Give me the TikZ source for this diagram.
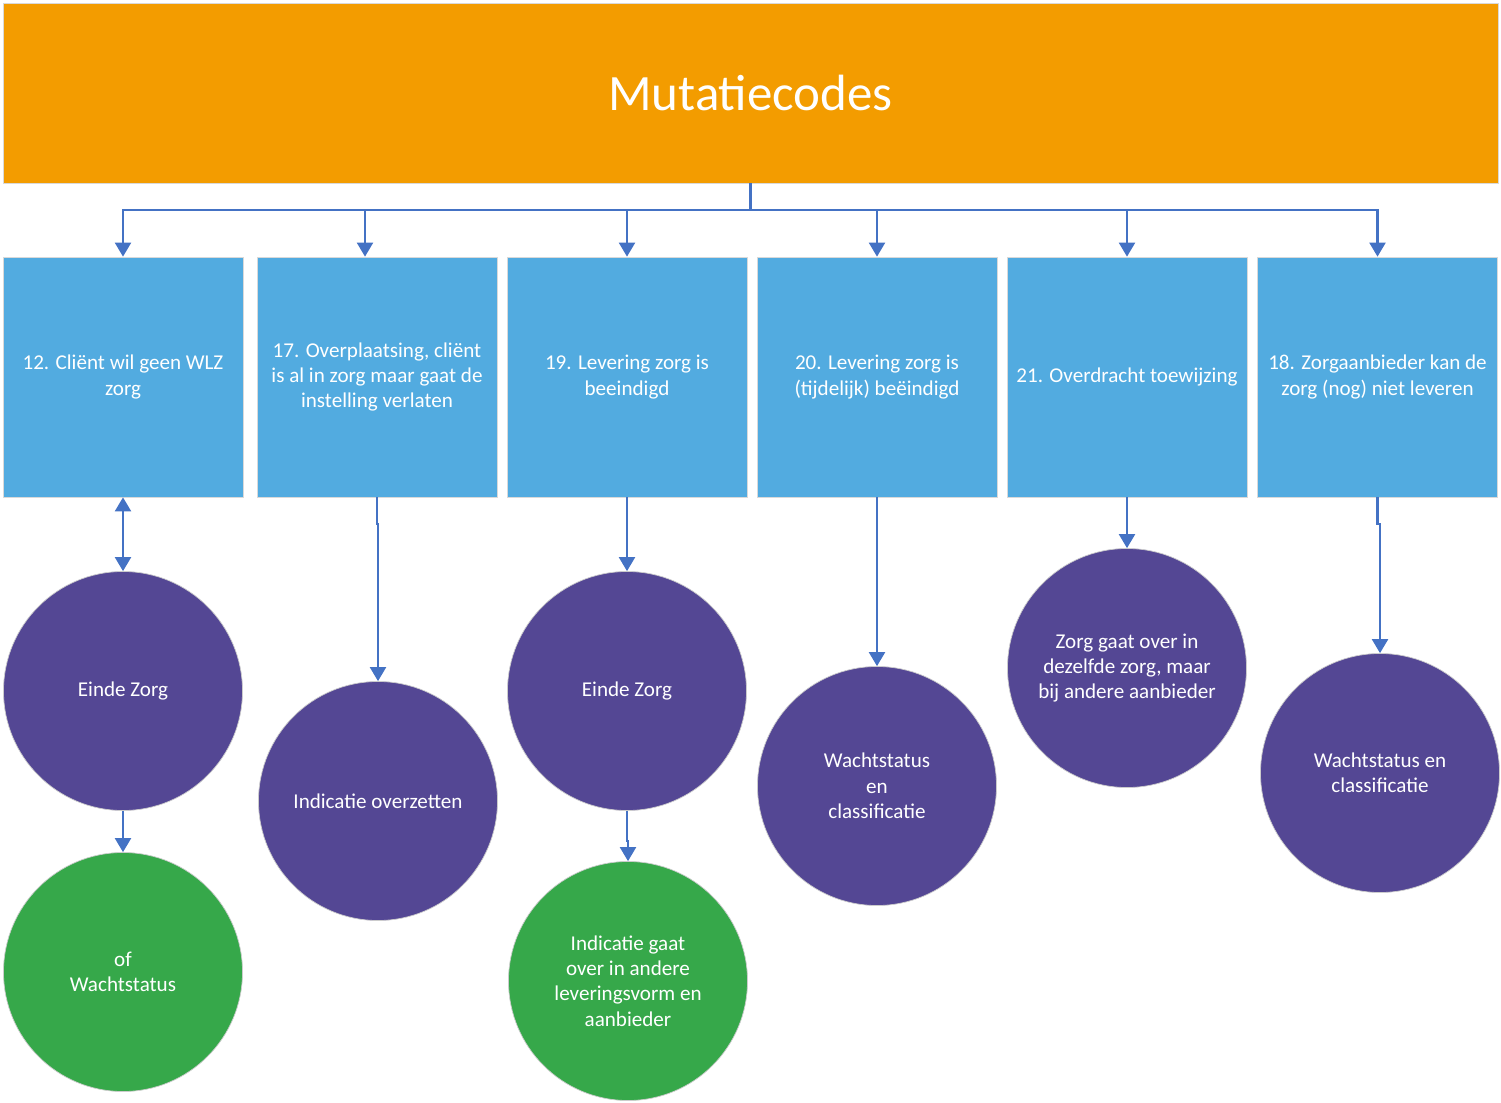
\documentclass[tikz,border=0pt]{standalone}
\usepackage{fontspec}
\setmainfont{Carlito}
\usetikzlibrary{arrows.meta}
\definecolor{koporanje}{HTML}{F39C00}
\definecolor{codeblauw}{HTML}{52ABE0}
\definecolor{paars}{HTML}{544794}
\definecolor{groen}{HTML}{36A84A}
\definecolor{lijnblauw}{HTML}{4472C4}
\tikzset{
  codebox/.style={rectangle, fill=codeblauw, draw=black!15, minimum width=4.8cm, minimum height=4.8cm,
    inner sep=2pt, align=center, text=white, font=\fontsize{12}{14.4}\selectfont},
  gevolg/.style={circle, fill=paars, draw=black!20, minimum size=4.78cm, inner sep=0pt,
    align=center, text=white, font=\fontsize{12}{14.4}\selectfont},
  alternatief/.style={gevolg, fill=groen},
  pijl/.style={draw=lijnblauw, line width=1.2pt, -{Triangle[width=0.32cm,length=0.28cm]}},
}
\begin{document}
\begin{tikzpicture}
        \useasboundingbox (0,0) rectangle (30.02,-22.06);

        \node[rectangle, fill=koporanje, draw=black!15, minimum width=29.9cm, minimum height=3.6cm,
          text=white, font=\fontsize{29}{34}\selectfont] (kop) at (15.01,-1.86) {Mutatiecodes};
        \coordinate (bus) at (15.01,-4.2);

        \node[codebox] (c12) at (2.46,-7.54) {12. Cliënt wil geen WLZ\\zorg};
        \node[codebox] (c17) at (7.54,-7.54) {17. Overplaatsing, cliënt\\is al in zorg maar gaat de\\instelling verlaten};
        \node[codebox] (c19) at (12.54,-7.54) {19. Levering zorg is\\beeindigd};
        \node[codebox] (c20) at (17.54,-7.54) {20. Levering zorg is\\(tijdelijk) beëindigd};
        \node[codebox] (c21) at (22.54,-7.54) {21. Overdracht toewijzing};
        \node[codebox] (c18) at (27.55,-7.54) {18. Zorgaanbieder kan de\\zorg (nog) niet leveren};

        % bus from the header to the six codes
        \foreach \c/\dx in {c12/0,c17/-0.24,c19/0,c20/0,c21/0,c18/0}
          \draw[pijl] (kop.south) -- (bus) -| ([xshift=\dx cm]\c.north);

        \node[gevolg] (einde12) at (2.46,-13.82) {Einde Zorg};
        \node[alternatief] (wacht12) at (2.46,-19.44) {of\\Wachtstatus};
        \node[gevolg] (overzet17) at (7.56,-16.02) {Indicatie overzetten};
        \node[gevolg] (einde19) at (12.54,-13.82) {Einde Zorg};
        \node[alternatief] (vorm19) at (12.56,-19.62) {Indicatie gaat\\over in andere\\leveringsvorm en\\aanbieder};
        \node[gevolg] (wacht20) at (17.54,-15.72) {Wachtstatus\\en\\classificatie};
        \node[gevolg] (over21) at (22.54,-13.36) {Zorg gaat over in\\dezelfde zorg, maar\\bij andere aanbieder};
        \node[gevolg] (wacht18) at (27.6,-15.46) {Wachtstatus en\\classificatie};

        \draw[pijl, {Triangle[width=0.32cm,length=0.28cm]}-{Triangle[width=0.32cm,length=0.28cm]}] (c12) -- (einde12);
        \draw[pijl] (einde12) -- (wacht12);
        \draw[pijl] (c17.south) -- ++(0,-0.54) -| (overzet17.north);
        \draw[pijl] (c19) -- (einde19);
        \draw[pijl] (einde19.south) -- ++(0,-0.6) -| (vorm19.north);
        \draw[pijl] (c20) -- (wacht20);
        \draw[pijl] (c21) -- (over21);
        \draw[pijl] (c18.south) -- ++(0,-0.54) -| (wacht18.north);
      \end{tikzpicture}
\end{document}
